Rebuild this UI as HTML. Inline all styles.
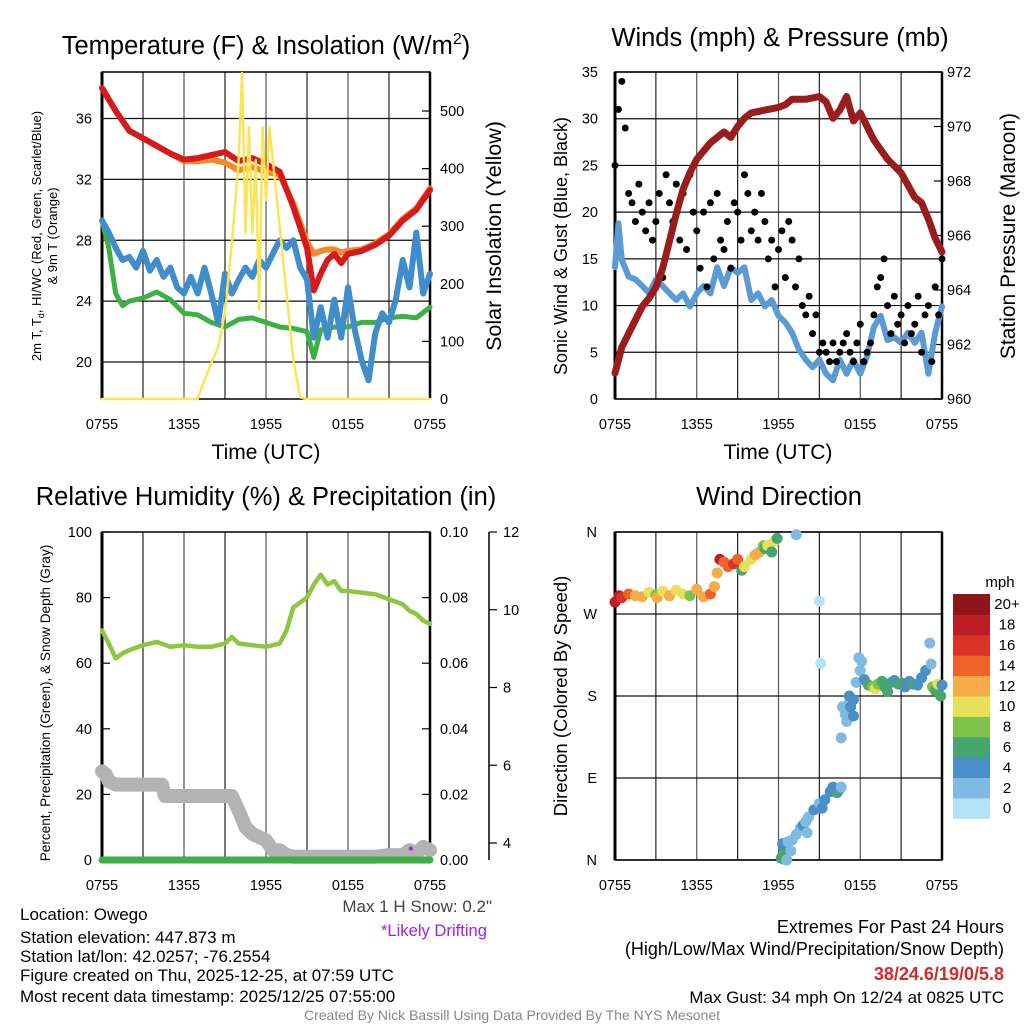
<!DOCTYPE html>
<html><head><meta charset="utf-8"><style>
html,body{margin:0;padding:0;background:#fff}
svg{display:block;font-family:"Liberation Sans",Arial,sans-serif}
</style></head><body>
<svg id="s" width="1024" height="1024" viewBox="0 0 1024 1024" xmlns="http://www.w3.org/2000/svg">
<g id="static">
<text x="266" y="54" font-size="25.5" text-anchor="middle">Temperature (F) &amp; Insolation (W/m<tspan dy="-10" font-size="16">2</tspan><tspan dy="10">)</tspan></text>
<text x="780" y="46" font-size="25.5" text-anchor="middle">Winds (mph) &amp; Pressure (mb)</text>
<text x="266" y="505" font-size="25.5" text-anchor="middle">Relative Humidity (%) &amp; Precipitation (in)</text>
<text x="779" y="505" font-size="25.5" text-anchor="middle">Wind Direction</text>
<text x="266" y="459" font-size="21" text-anchor="middle">Time (UTC)</text>
<text x="778" y="459" font-size="21" text-anchor="middle">Time (UTC)</text>
<text transform="translate(41,236) rotate(-90)" font-size="13" text-anchor="middle">2m T, T<tspan dy="3" font-size="9">d</tspan><tspan dy="-3">, HI/WC (Red, Green, Scarlet/Blue)</tspan></text>
<text transform="translate(57,236) rotate(-90)" font-size="13" text-anchor="middle">&amp; 9m T (Orange)</text>
<text transform="translate(501,236) rotate(-90)" font-size="21.5" text-anchor="middle">Solar Insolation (Yellow)</text>
<text transform="translate(567,246) rotate(-90)" font-size="18" text-anchor="middle">Sonic Wind &amp; Gust (Blue, Black)</text>
<text transform="translate(1015,236) rotate(-90)" font-size="21" text-anchor="middle">Station Pressure (Maroon)</text>
<text transform="translate(50,703) rotate(-90)" font-size="13.6" text-anchor="middle">Percent, Precipitation (Green), &amp; Snow Depth (Gray)</text>
<text transform="translate(567,696) rotate(-90)" font-size="18.5" text-anchor="middle">Direction (Colored By Speed)</text>
<text x="1000" y="587" font-size="15" text-anchor="middle">mph</text>
<g font-size="17">
<text x="20" y="920">Location: Owego</text>
<text x="20" y="943">Station elevation: 447.873 m</text>
<text x="20" y="962">Station lat/lon: 42.0257; -76.2554</text>
<text x="20" y="981">Figure created on Thu, 2025-12-25, at 07:59 UTC</text>
<text x="20" y="1002">Most recent data timestamp: 2025/12/25 07:55:00</text>
</g>
<text x="492" y="912" font-size="17" text-anchor="end" fill="#444">Max 1 H Snow: 0.2"</text>
<text x="487" y="936" font-size="16.6" text-anchor="end" fill="#a020f0">*Likely Drifting</text>
<g font-size="18" text-anchor="end">
<text x="1004" y="933">Extremes For Past 24 Hours</text>
<text x="1004" y="955">(High/Low/Max Wind/Precipitation/Snow Depth)</text>
<text x="1004" y="980" font-weight="bold" fill="#d42a2a">38/24.6/19/0/5.8</text>
<text x="1004" y="1003" font-size="17">Max Gust: 34 mph On 12/24 at 0825 UTC</text>
</g>
<text x="512" y="1020" font-size="14" fill="#888" text-anchor="middle">Created By Nick Bassill Using Data Provided By The NYS Mesonet</text>
</g>
</svg>
<script>
// ---------- data ----------
const xTickLabels = ["0755","1355","1955","0155","0755"];
const tempTimes = [0,1,2,3,4,5,6,7,8,9,10,11,12,13,14,15,15.5,16,16.5,17,17.5,18,19,20,21,22,23,24];
const tempRed = [38.0,36.5,35.2,34.7,34.2,33.7,33.3,33.4,33.6,33.8,33.2,33.4,33.0,32.5,30.2,27.5,24.7,25.8,26.7,27.1,26.5,27.1,27.3,27.7,28.3,29.3,30.0,31.3];
const tempOrange = [38.0,36.5,35.2,34.7,34.2,33.7,33.2,33.2,33.3,33.1,32.6,32.8,32.5,32.3,30.4,27.9,27.1,27.3,27.4,27.4,27.2,27.3,27.4,27.8,28.4,29.4,30.1,31.4];
const dewTimes = [0,0.5,1,1.5,2,3,4,5,6,7,8,9,10,11,12,13,14,15,15.5,16,17,18,19,20,21,22,23,24];
const dewGreen = [29.3,27.5,24.5,23.7,24.0,24.2,24.6,24.1,23.2,23.1,22.6,22.3,22.8,22.9,22.6,22.3,22.2,22.0,20.3,22.1,22.3,22.3,22.6,22.6,22.9,23.0,22.9,23.6];
const wcTimes = [0,0.5,1,1.5,2,2.5,3,3.5,4,4.5,5,5.5,6,6.5,7,7.5,8,8.5,9,9.5,10,10.5,11,11.5,12,12.5,13,13.5,14,14.5,15,15.5,16,16.5,17,17.5,18,18.5,19,19.5,20,20.5,21,21.5,22,22.5,23,23.5,24];
const wcBlue = [29.3,28.5,27.5,26.7,26.9,26.2,27.3,26.0,26.7,25.6,26.2,24.9,24.5,25.6,24.5,26.2,24.5,22.6,25.8,24.5,25.4,26.2,25.6,26.7,26.2,27.1,28.0,27.5,28.0,26.2,25.4,21.6,23.6,21.6,24.1,21.6,24.9,22.1,20.1,18.8,21.9,23.2,22.6,24.1,26.7,24.9,28.5,24.5,25.8];
const solarTimes = [0,7,7.5,8,8.5,9,9.5,10,10.25,10.5,10.75,11,11.25,11.5,11.75,12,12.25,12.5,13,13.5,14,14.5,15,24];
const solarYellow = [0,0,33,63,90,150,270,415,566,288,472,288,415,155,472,345,472,415,299,184,68,3,0,0];
const tempTicks = [20,24,28,32,36];
const solarTicks = [0,100,200,300,400,500];

const presTimes = [0,0.5,1,1.5,2,2.5,3,3.5,4,4.5,5,5.5,6,6.5,7,7.5,8,8.5,9,9.5,10,11,12,12.5,13,14,15,15.5,16,16.5,17,17.5,18,18.5,19,20,21,22,22.5,23,23.5,24];
const presMaroon = [960.95,961.9,962.4,962.9,963.4,963.7,964.1,964.8,965.8,966.8,967.7,968.3,968.8,969.1,969.4,969.6,969.8,969.6,970.0,970.3,970.5,970.6,970.7,970.8,971.0,971.0,971.1,970.9,970.3,970.6,971.1,970.2,970.5,970.0,969.5,968.8,968.3,967.4,967.2,966.6,965.9,965.4];
const windTimes = [0,0.25,0.5,1,1.5,2,2.5,3,3.5,4,4.5,5,5.5,6,6.5,7,7.5,8,8.5,9,9.5,10,10.5,11,11.5,12,12.5,13,13.5,14,14.5,15,15.5,16,16.5,17,17.5,18,18.5,19,19.5,20,20.5,21,21.5,22,22.5,23,23.5,24];
const windBlue = [14.1,18.8,14.9,13.1,12.8,12.1,11.3,12.8,12.1,11.3,10.6,11.3,9.9,11.3,12.1,11.3,14.1,12.1,14.1,13.5,14.1,10.6,11.3,9.9,10.6,8.9,8.2,7.1,5.3,4.2,3.4,4.2,2.7,2.0,4.2,2.7,4.2,2.7,4.6,7.7,8.9,6.3,6.6,6.0,7.1,6.0,7.1,2.7,7.1,9.9];
const gustBlack = [25,31,34,29, 22,21,19,23, 20,18,21,17, 19,22,13,24, 21,19,23,17, 22,16,24,20, 18,14,20,12, 21,15,22,17, 16,19,14,21, 20,17,24,22, 18,20,17,22, 19,15,17,12, 16,18,13,19, 17,12,15,10, 9,11,7,9, 5,6,5,4, 6,4,5,6, 7,5,4,6, 8,4,5,6, 9,12,13,15, 10,7,11,8, 9,6,10,7, 8,11,5,9, 10,4,12,9, 15];
const windTicks = [0,5,10,15,20,25,30,35];
const presTicks = [960,962,964,966,968,970,972];

const rhTimes = [0,0.5,1,1.5,2,3,4,5,6,7,8,9,9.5,10,11,12,13,13.5,14,15,15.5,16,16.5,17,17.5,18,19,20,21,22,22.5,23,23.5,24];
const rhGreen = [70,66,61.5,63,64,65.5,66.5,65,65.5,65,65,66,68,66,65.5,65,66,70,77,80,84,87,84,85,82,82,81.5,81,79.5,78,76,75,73,72];
const snowTimes = [0,0.3,0.5,1,4.4,4.6,9.5,10,10.5,11,12,12.5,13,13.5,14,15,20,21,22,22.5,23,23.5,24];
const snowGray = [27,26,24,23,23,19.5,19.5,15,10,8,6,3,3,1.5,1,1,1,1.5,1.5,3,2,4,3];
const precipTimes = [0,24];
const precipIn = [0,0];
const driftTimes = [22.6];
const driftVals = [3.5];
const rhTicks = [0,20,40,60,80,100];
const precipTicks = ["0.00","0.02","0.04","0.06","0.08","0.10"];
const snowAxisTicks = [4,6,8,10,12];

const dirTimes = [0,0.3,0.5,1,1.5,2,2.5,3,3.1,3.5,4,4.5,5,5.5,6,6.5,7,7.3,7.5,7.7,8,8.3,8.7,9,9.3,9.5,10,10.3,10.6,10.9,11,11.2,11.5,11.7,11.9,13.3,
 12.2,12.4,12.6,12.4,12.3,12.7,13,12.9,13.3,13.6,13.8,14,14.2,14.1,14.6,15,15.2,15.4,15.8,16,16.3,16.5,16.6,15.0,15.1,16.6,
 16.7,16.9,17.0,17.2,17.3,17.5,17.5,17.2,17.7,17.9,18.0,18.1,18.3,18.6,18.9,19.1,19.3,19.6,19.8,20.0,20.3,20.5,20.8,21.1,21.3,21.6,21.9,22.2,22.5,22.8,23.1,23.2,23.3,23.5,23.7,23.9,24];
const dirDeg = [283,290,288,292,290,289,294,291,288,295,290,296,292,290,297,289,292,300,315,330,327,322,325,330,318,322,330,335,338,345,342,345,338,350,353,357,
 2,1,0,12,18,20,22,10,28,35,38,42,47,30,55,62,57,66,75,80,74,78,80,284,216,134,
 168,160,152,173,168,158,176,180,195,222,208,218,198,192,190,188,193,196,190,185,195,197,193,194,190,196,193,192,200,208,238,215,190,186,193,180,192];
const dirSpeed = [18,19,17,14,13,12,10,8,12,11,12,10,11,9,12,12,15,12,12,18,15,14,16,15,7,10,10,12,12,8,6,11,6,10,6,3,
 6,6,3,6,4,2,2,2,2,2,4,3,2,2,4,3,4,4,4,4,6,4,3,1,1,2,
 2,2,2,3,4,4,4,4,3,2,2,2,4,6,8,10,8,6,6,6,6,4,6,6,4,4,6,4,4,4,2,2,8,6,10,6,4];
const speedBinLabels = ["0","2","4","6","8","10","12","14","16","18","20+"];
const speedColors = ["#b4e2f6","#7fbae3","#4a8fc7","#47a56f","#7dc24b","#e7e058","#f6aa48","#ef632b","#dc3327","#bd1d24","#8e161a"];
const dirTicks = ["N","E","S","W","N"];

// ---------- helpers ----------
const NS = "http://www.w3.org/2000/svg";
const svg = document.getElementById('s');
function mk(tag, attrs, parent){const e=document.createElementNS(NS,tag);for(const k in attrs)e.setAttribute(k,attrs[k]);(parent||svg).appendChild(e);return e;}
function lin(d0,d1,r0,r1){return v=>r0+(v-d0)/(d1-d0)*(r1-r0);}
function poly(ts,vs,xf,yf,attrs,name){
  const pts=ts.map((t,i)=>xf(t).toFixed(1)+","+yf(vs[i]).toFixed(1)).join(" ");
  const p=mk('polyline',Object.assign({points:pts,fill:"none","stroke-linejoin":"round","stroke-linecap":"round"},attrs));
  
  
  return p;
}
function frame(x0,y0,x1,y1,name,hLines){
  const g=mk('g',{});
  
  
  for(let i=0;i<=8;i++){const x=x0+(x1-x0)*i/8;const l=mk('line',{x1:x,y1:y0,x2:x,y2:y1,stroke:i%2?"#222":"#555","stroke-width":1.2},g);
    
    }
  hLines.forEach(y=>{const l=mk('line',{x1:x0,y1:y,x2:x1,y2:y,stroke:"#111","stroke-width":1.2},g);
    
    });
  const r=mk('rect',{x:x0,y:y0,width:x1-x0,height:y1-y0,fill:"none",stroke:"#000","stroke-width":1.5},g);
  
  
  mk('line',{x1:x0,y1:y0,x2:x0,y2:y1,stroke:"#000","stroke-width":3},g);
  mk('line',{x1:x1,y1:y0,x2:x1,y2:y1,stroke:"#000","stroke-width":2.5},g);
  xTickLabels.forEach((lab,i)=>{const x=x0+(x1-x0)*i/4;
    const t=mk('text',{x:x,y:y1+30,"font-size":14.5,"text-anchor":"middle"},g);t.textContent=lab;
    
    });
  return g;
}
function yLabels(vals,yf,x,anchor,name,fmt,tickX,tickDir){
  vals.forEach(v=>{const y=yf(typeof v==="string"?parseFloat(v):v);
    const t=mk('text',{x:x,y:y+5,"font-size":14.5,"text-anchor":anchor});t.textContent=fmt?fmt(v):v;
    
    
    if(tickX!==undefined){mk('line',{x1:tickX,y1:y,x2:tickX+tickDir,y2:y,stroke:"#000","stroke-width":1.2});}
  });
}

// ---------- panel 1: temperature ----------
{
 const X0=102,X1=430,Y0=72,Y1=399;
 const x=lin(0,24,X0,X1), y=lin(20,36,362,118.5), ys=lin(0,500,399,111);
 frame(X0,Y0,X1,Y1,"temp-plot",tempTicks.map(y));
 yLabels(tempTicks,y,92,"end","temp-y-tick");
 yLabels(solarTicks,ys,440,"start","solar-y-tick",null,X1,-8);
 poly(tempTimes,tempOrange,x,y,{stroke:"#f28a2a","stroke-width":6},"temp-9m-orange-line");
 poly(tempTimes,tempRed,x,y,{stroke:"#d7191c","stroke-width":6},"temp-2m-red-line");
 poly(dewTimes,dewGreen,x,y,{stroke:"#3cb043","stroke-width":5},"dewpoint-green-line");
 poly(wcTimes,wcBlue,x,y,{stroke:"#3f8dcb","stroke-width":6},"windchill-blue-line");
 poly(solarTimes,solarYellow,x,ys,{stroke:"#fde456","stroke-width":2.5},"solar-yellow-line");
}
// ---------- panel 2: winds ----------
{
 const X0=615,X1=942,Y0=72,Y1=399;
 const x=lin(0,24,X0,X1), y=lin(0,35,399,72), yp=lin(960,972,399,72);
 frame(X0,Y0,X1,Y1,"winds-plot",windTicks.map(y));
 yLabels(windTicks,y,598,"end","wind-y-tick");
 yLabels(presTicks,yp,947,"start","pressure-y-tick",null,X1,-8);
 poly(windTimes,windBlue,x,y,{stroke:"#5b9bd5","stroke-width":6},"wind-speed-blue-line");
 gustBlack.forEach((g,i)=>{const c=mk('circle',{cx:x(i*0.25),cy:y(g),r:3.5,fill:"#000"});
   
   });
 poly(presTimes,presMaroon,x,yp,{stroke:"#9b1c1c","stroke-width":7},"pressure-maroon-line");
}
// ---------- panel 3: RH ----------
{
 const X0=102,X1=430,Y0=532,Y1=860;
 const x=lin(0,24,X0,X1), y=lin(0,100,860,532), ys2=lin(4,12,843,532);
 frame(X0,Y0,X1,Y1,"rh-plot",[]);
 yLabels(rhTicks,y,92,"end","rh-y-tick",null,X0,8);
 yLabels(precipTicks,v=>lin(0,0.1,860,532)(v),440,"start","precip-y-tick",null,X1,-8);
 const ax=mk('line',{x1:489,y1:532,x2:489,y2:860,stroke:"#000","stroke-width":1.5});
 
 
 yLabels(snowAxisTicks,ys2,503,"start","snow-axis-tick",null,489,8);
 poly(snowTimes,snowGray,x,y,{stroke:"#b3b3b3","stroke-width":14},"snow-depth-gray-line");
 poly(rhTimes,rhGreen,x,y,{stroke:"#8dc63f","stroke-width":4.5},"rh-green-line");
 poly(precipTimes,precipIn,x,v=>lin(0,0.1,860,532)(v),{stroke:"#3cb043","stroke-width":7},"precip-green-line");
 driftTimes.forEach((t,i)=>{const c=mk('circle',{cx:x(t),cy:y(driftVals[i]),r:2,fill:"#a020f0"});
   
   });
}
// ---------- panel 4: wind direction ----------
{
 const X0=615,X1=942,Y0=532,Y1=860;
 const x=lin(0,24,X0,X1), y=lin(0,360,860,532);
 frame(X0,Y0,X1,Y1,"wdir-plot",[0,90,180,270,360].map(y));
 dirTicks.forEach((lab,i)=>{const t=mk('text',{x:597,y:y(i*90)+5,"font-size":14.5,"text-anchor":"end"});t.textContent=lab;
   
   });
 dirTimes.forEach((t,i)=>{const b=Math.min(10,Math.floor(dirSpeed[i]/2));
   const c=mk('circle',{cx:x(t),cy:y(dirDeg[i]),r:5.5,fill:speedColors[b]});
   
   });
 const top=594,h=20.4;
 speedColors.forEach((col,i)=>{const yy=top+(10-i)*h;
   const r=mk('rect',{x:953,y:yy,width:37,height:h+0.5,fill:col});
   
   
   const t=mk('text',{x:1007,y:yy+h/2+5,"font-size":15,"text-anchor":"middle"});t.textContent=speedBinLabels[i];
   
   });
}
</script>
</body></html>
